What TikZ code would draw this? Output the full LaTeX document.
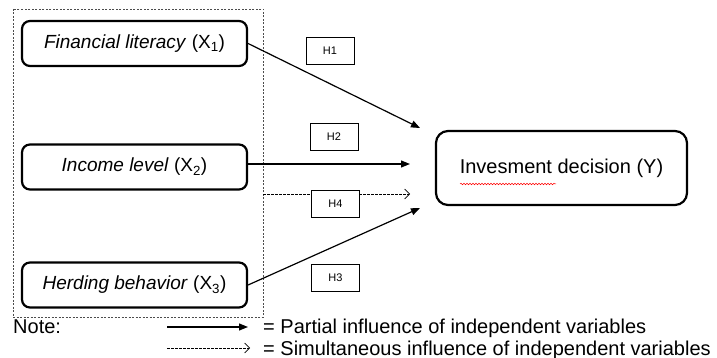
\documentclass[tikz,border=0pt]{standalone}
\usepackage{fontspec}
\setmainfont{Liberation Sans}
\usetikzlibrary{arrows.meta,decorations.pathmorphing}

\begin{document}
\begin{tikzpicture}[x=1pt,y=-1pt,
		varbox/.style={draw,line width=2.2pt,rounded corners=8pt,minimum width=225pt,minimum height=45pt,font=\fontsize{19}{22}\selectfont},
		ybox/.style={draw,line width=2.2pt,rounded corners=12pt,minimum width=251pt,minimum height=74pt,font=\fontsize{20}{22}\selectfont},
		hbox/.style={draw,fill=white,line width=0.9pt,minimum width=48pt,minimum height=27pt,font=\fontsize{11}{12}\selectfont},
		partial/.style={line width=1.2pt,-{Triangle[length=9pt,width=7pt]}},
		simult/.style={line width=0.6pt,dash pattern=on 2.5pt off 1.5pt,-{Straight Barb[length=5pt,width=10pt,line width=0.6pt]}},
		legtext/.style={anchor=base west,inner sep=0pt,font=\fontsize{20}{22}\selectfont}]
		\useasboundingbox (0,0) rectangle (717,358);
		% dashed frame round the independent variables
		\draw[line width=0.6pt,dash pattern=on 2pt off 1.5pt,black!70] (13,9) rectangle (263,317);
		% variables
		\node[varbox] (x1) at (134.5,43.5) {\textit{Financial literacy} (X\textsubscript{1})};
		\node[varbox] (x2) at (134.5,167) {\textit{Income level} (X\textsubscript{2})};
		\node[varbox] (x3) at (134.5,285) {\textit{Herding behavior} (X\textsubscript{3})};
		\node[ybox] (y) at (561.5,168) {Invesment decision (Y)};
		\draw[red,line width=0.5pt,decorate,decoration={snake,amplitude=0.8pt,segment length=3pt}] (460,184) -- (556,184);
		% arrow ends
		\coordinate (t1) at (420,128);
		\coordinate (t2) at (410,164);
		\coordinate (s4) at (263,194);
		\coordinate (t4) at (410,194);
		\coordinate (t3) at (420,208);
		\draw[partial] (x1.east) -- (t1);
		\draw[partial] (x2.east |- t2) -- (t2);
		\draw[simult] (s4) -- (t4);
		\draw[partial] (x3.east) -- (t3);
		% hypotheses
		\node[hbox] (h1) at (330,50.5) {H1};
		\node[hbox] (h2) at (334,136.5) {H2};
		\node[hbox] (h4) at (335.5,204) {H4};
		\node[hbox] (h3) at (335.5,278) {H3};
		% legend
		\node[legtext] (note) at (13,333) {Note:};
		\coordinate (p1) at (167,327);
		\coordinate (p2) at (248,327);
		\coordinate (q1) at (167,348);
		\coordinate (q2) at (250,348);
		\draw[partial] (p1) -- (p2);
		\draw[simult] (q1) -- (q2);
		\node[legtext] (lp) at (263,333) {= Partial influence of independent variables};
		\node[legtext] (ls) at (263,355) {= Simultaneous influence of independent variables};
	\end{tikzpicture}
\end{document}
